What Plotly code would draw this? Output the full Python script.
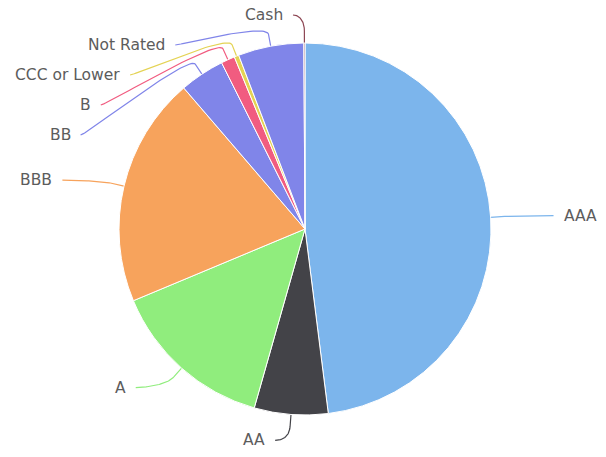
import math
import numpy as np
import plotly.graph_objects as go

labels = ["AAA", "AA", "A", "BBB", "BB", "B", "CCC or Lower", "Not Rated", "Cash"]
values = [48.0, 6.4, 14.3, 20.0, 3.9, 1.2, 0.4, 5.7, 0.1]
colors = ["#7cb5ec", "#434348", "#90ed7d", "#f7a35c", "#8085e9",
          "#f15c80", "#e4d354", "#8085e9", "#8d4653"]

W, H = 606, 457
cx, cy, r = 305, 229, 186
ring, ring_x, pad, spacing = 212, 237, 12, 30
top, bottom = 15, H - 12
brk = 12
gap = 8

total = sum(values)
mids, cum = [], 0.0
for v in values:
    mids.append((cum + v / 2) / total * 2 * math.pi)
    cum += v

# ideal label positions
items = []
for i, th in enumerate(mids):
    side = 1 if math.sin(th) >= 0 else -1
    items.append(dict(i=i, side=side, target=cy - ring * math.cos(th), th=th))


def distribute(group):
    group = sorted(group, key=lambda d: d["target"])
    boxes = [dict(members=[g], target=g["target"]) for g in group]

    def place(b):
        n = len(b["members"])
        start = b["target"] - (n - 1) * spacing / 2
        start = max(top, min(start, bottom - (n - 1) * spacing))
        b["start"] = start

    for b in boxes:
        place(b)
    changed = True
    while changed:
        changed = False
        for k in range(len(boxes) - 1):
            a, b = boxes[k], boxes[k + 1]
            if a["start"] + len(a["members"]) * spacing > b["start"]:
                mem = a["members"] + b["members"]
                nb = dict(members=mem, target=sum(m["target"] for m in mem) / len(mem))
                place(nb)
                boxes[k:k + 2] = [nb]
                changed = True
                break
    for b in boxes:
        for j, m in enumerate(b["members"]):
            m["y"] = b["start"] + j * spacing


distribute([d for d in items if d["side"] < 0])
distribute([d for d in items if d["side"] > 0])

fig = go.Figure()
fig.add_trace(go.Pie(
    labels=labels, values=values, sort=False, direction="clockwise", rotation=0,
    marker=dict(colors=colors, line=dict(color="white", width=1)),
    textinfo="none", hoverinfo="label+percent",
    domain=dict(x=[(cx - r) / W, (cx + r) / W], y=[1 - (cy + r) / H, 1 - (cy - r) / H]),
    showlegend=False,
))

annotations = []
for d in items:
    th, side, y = d["th"], d["side"], d["y"]
    c = max(-1.0, min(1.0, (y - cy) / ring))
    lx = cx + side * (ring_x * math.sqrt(1 - c * c) + pad)
    tx, ty = cx + r * math.sin(th), cy - r * math.cos(th)
    bx, by = cx + (r + brk) * math.sin(th), cy - (r + brk) * math.cos(th)
    p0 = np.array([lx, y])
    p1 = np.array([lx - side * 5, y])
    p2 = np.array([2 * bx - tx, 2 * by - ty])
    p3 = np.array([bx, by])
    t = np.linspace(0, 1, 40)[:, None]
    pts = (1 - t) ** 3 * p0 + 3 * (1 - t) ** 2 * t * p1 + 3 * (1 - t) * t ** 2 * p2 + t ** 3 * p3
    xs = list(pts[:, 0]) + [tx]
    ys = list(pts[:, 1]) + [ty]
    fig.add_trace(go.Scatter(x=xs, y=ys, mode="lines", hoverinfo="skip",
                             line=dict(color=colors[d["i"]], width=1.2), showlegend=False))
    annotations.append(dict(
        x=lx + side * gap, y=y, xref="x", yref="y", text=labels[d["i"]], showarrow=False,
        xanchor="right" if side < 0 else "left", yanchor="middle",
        font=dict(family="DejaVu Sans", size=15.5, color="#5c5c5c"),
    ))

fig.update_layout(
    width=W, height=H, margin=dict(l=0, r=0, t=0, b=0),
    paper_bgcolor="white", plot_bgcolor="white",
    xaxis=dict(range=[0, W], visible=False, domain=[0, 1], fixedrange=True),
    yaxis=dict(range=[H, 0], visible=False, domain=[0, 1], fixedrange=True),
    annotations=annotations,
)
fig.write_html("out.html", config={"displayModeBar": False},
               post_script="document.body.style.margin='0';")
